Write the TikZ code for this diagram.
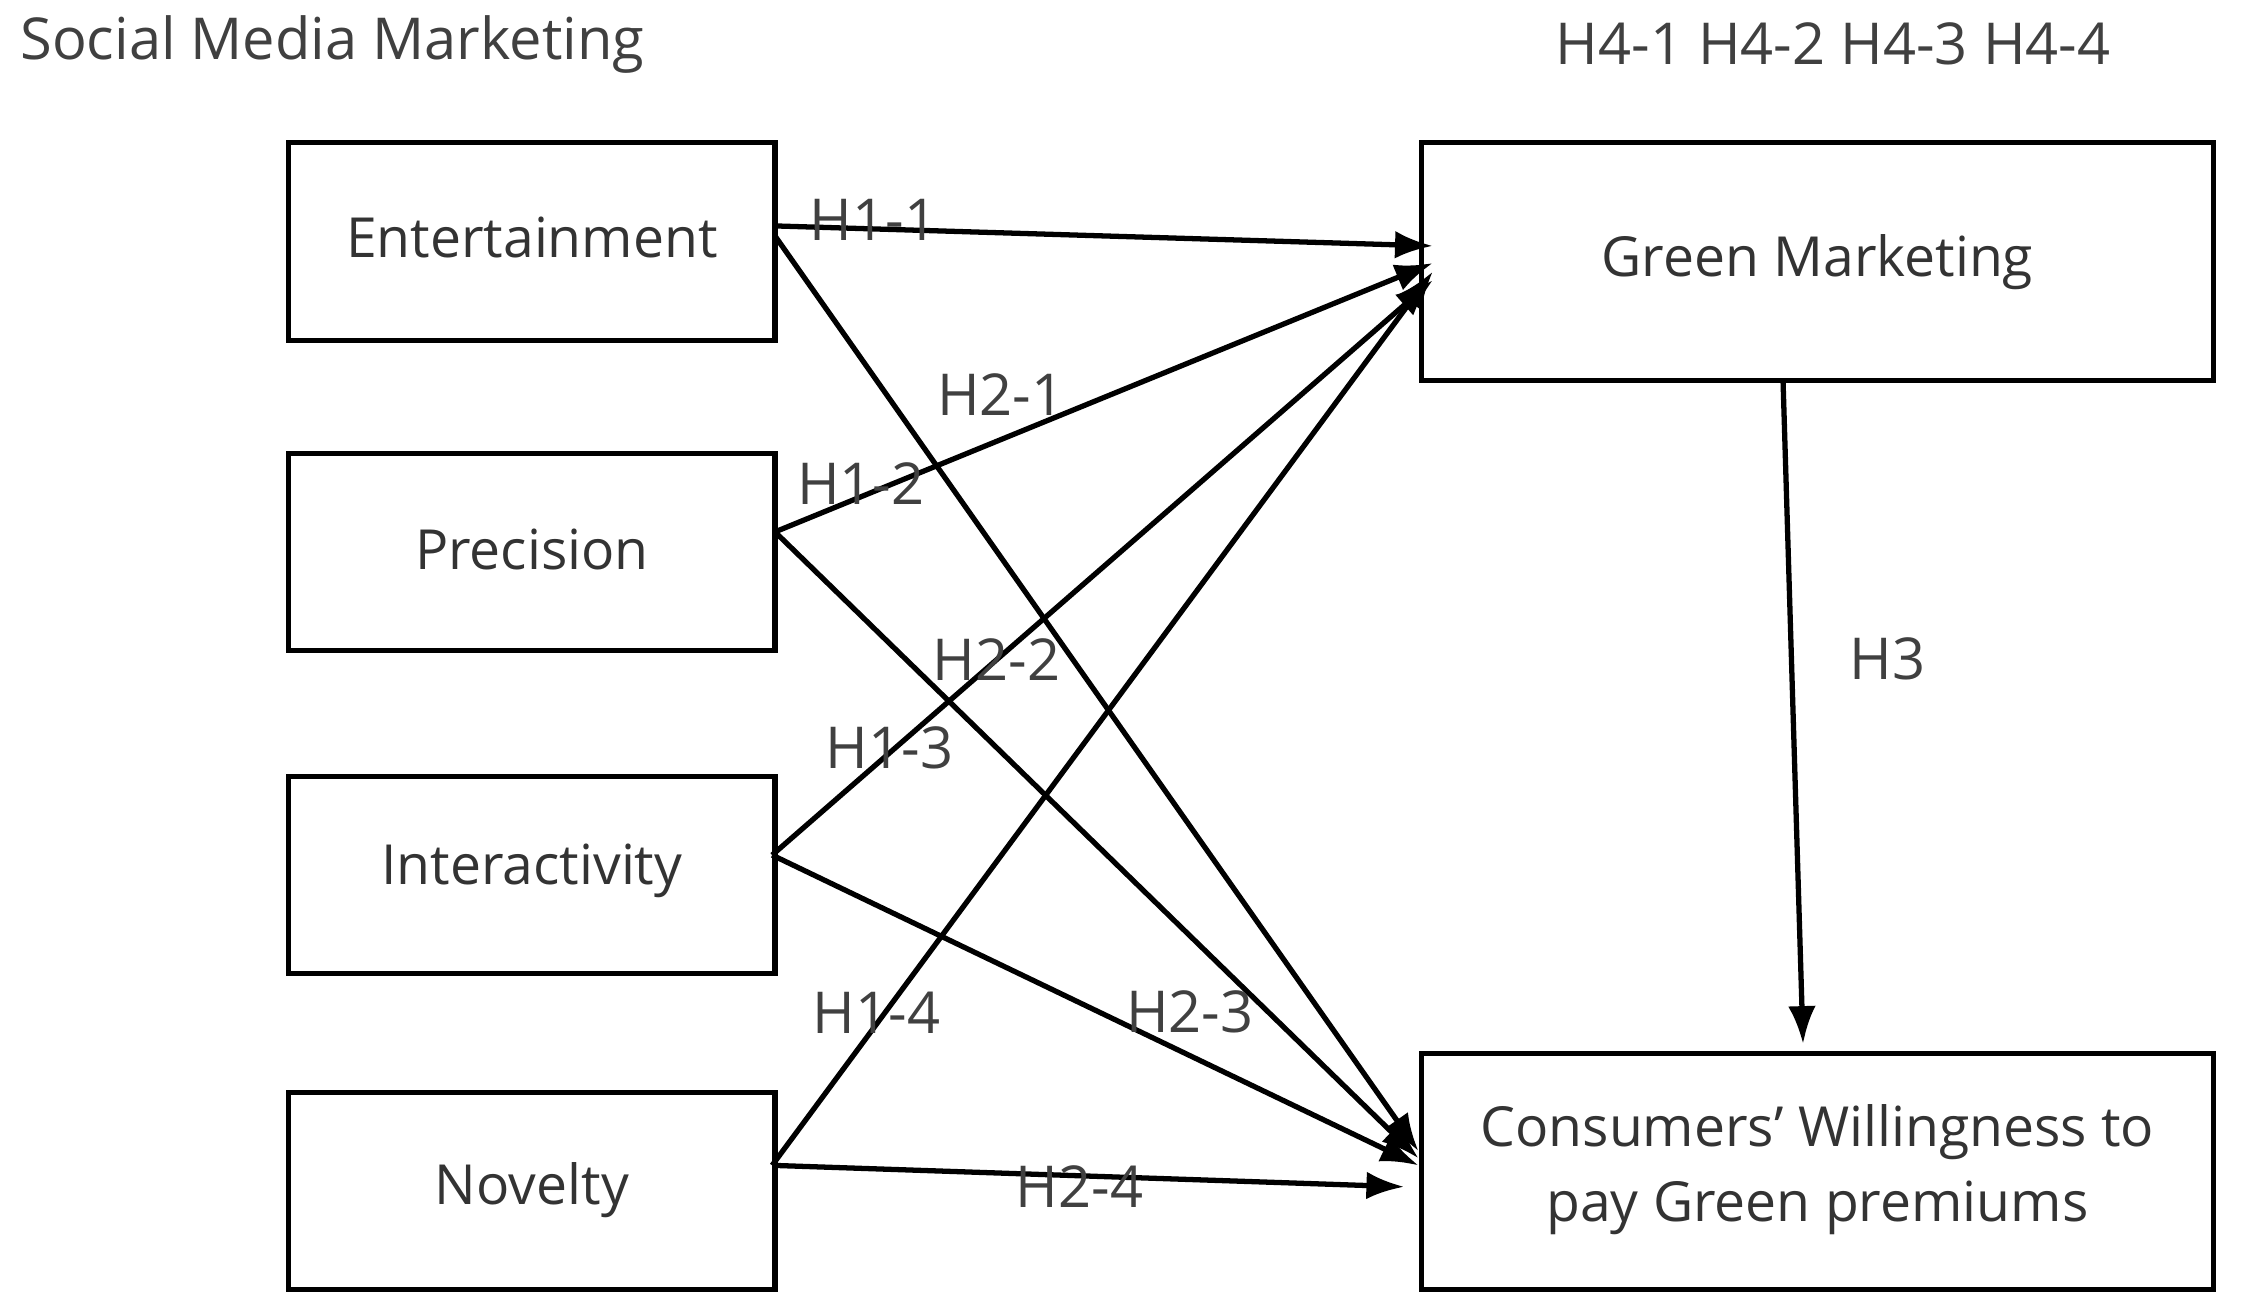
\documentclass[tikz,border=0pt]{standalone}
\usepackage{fontspec}
\setmainfont{Open Sans}
\usetikzlibrary{arrows.meta}
\begin{document}
\begin{tikzpicture}[x=0.02cm,y=-0.02cm,
  box/.style={draw,line width=2pt,inner sep=0},
  arr/.style={line width=2.1pt,-{Latex[length=15pt,width=11pt]}},
  lab/.style={font=\fontsize{23}{27}\selectfont,text=black!75},
  txt/.style={font=\fontsize{22}{30}\selectfont,text=black!80,align=center}]
\useasboundingbox (0,0) rectangle (1568,916);
\draw[box] (202,100) rectangle (542,238);
\draw[box] (202,317) rectangle (542,455);
\draw[box] (202,543) rectangle (542,681);
\draw[box] (202,764) rectangle (542,902);
\draw[box] (994,100) rectangle (1548,266);
\draw[box] (994,737) rectangle (1548,902);
\node[txt] (e) at (372,166) {Entertainment};
\node[txt] (p) at (372,384) {Precision};
\node[txt] (i) at (372,609) {Interactivity};
\node[txt] (n) at (372,832) {Novelty};
\node[txt] (g) at (1271,183) {Green Marketing};
\node[txt] (c) at (1271,818) {Consumers’ Willingness to\\pay Green premiums};
\coordinate (eo) at (542,158); \coordinate (eo2) at (542,165);
\coordinate (po) at (542,372); \coordinate (io) at (540,598); \coordinate (no) at (540,815);
\coordinate (g1) at (1002,172); \coordinate (g2) at (1002,184); \coordinate (g3) at (1002,196); \coordinate (g4) at (1002,190);
\coordinate (c1) at (992,805); \coordinate (c2) at (992,810); \coordinate (c3) at (992,815); \coordinate (c4) at (982,830);
\coordinate (gb) at (1247,266); \coordinate (ct) at (1261,730);
\draw[arr] (eo) -- (g1);
\draw[arr] (eo2) -- (c1);
\draw[arr] (po) -- (g2);
\draw[arr] (po) -- (c2);
\draw[arr] (io) -- (g3);
\draw[arr] (io) -- (c3);
\draw[arr] (no) -- (g4);
\draw[arr] (no) -- (c4);
\draw[arr] (gb) -- (ct);
\node[lab] (l11) at (611,154) {H1-1};
\node[lab] (l21) at (700,276) {H2-1};
\node[lab] (l12) at (602,338) {H1-2};
\node[lab] (l22) at (697,461) {H2-2};
\node[lab] (l13) at (622,523) {H1-3};
\node[lab] (l14) at (613,708) {H1-4};
\node[lab] (l23) at (832,708) {H2-3};
\node[lab] (l24) at (755,830) {H2-4};
\node[lab] (l3) at (1320,461) {H3};
\node[lab,anchor=west] (smm) at (8,31) {Social Media Marketing};
\node[lab] (h4) at (1282,31) {H4-1 H4-2 H4-3 H4-4};
\end{tikzpicture}
\end{document}
